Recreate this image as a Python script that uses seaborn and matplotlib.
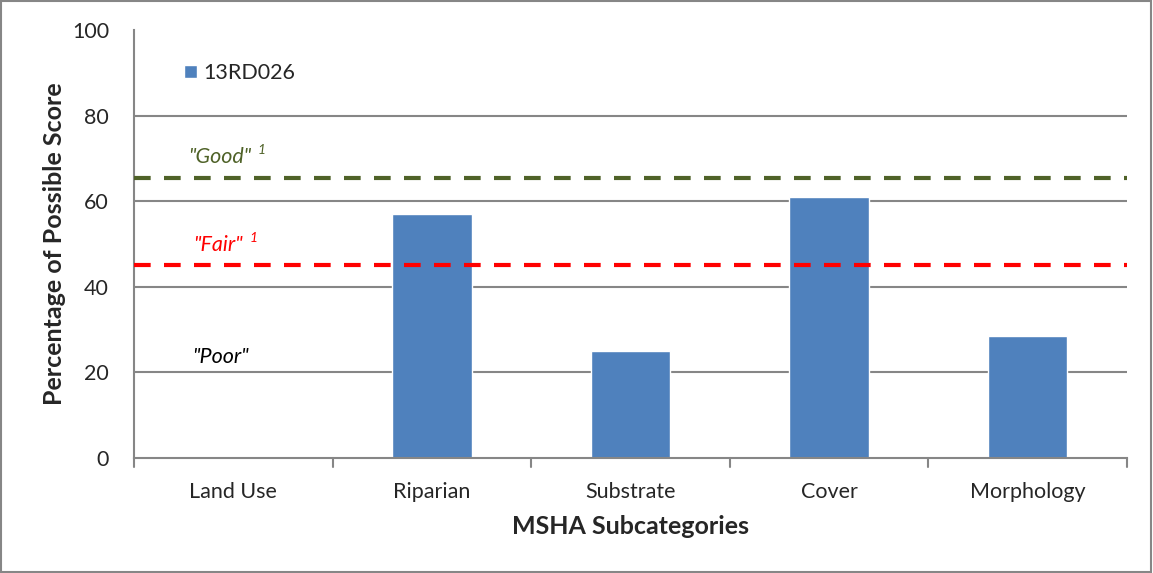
import pandas as pd
import matplotlib.pyplot as plt
import seaborn as sns
from matplotlib.patches import Rectangle

# Data
categories = ["Land Use", "Riparian", "Substrate", "Cover", "Morphology"]
scores = [0, 57, 25, 61, 28.5]
site = "13RD026"
good_level = 65.5
fair_level = 45.2

df = pd.DataFrame({"Subcategory": categories, "Score": scores})

sns.set_style("white")
plt.rcParams["font.family"] = ["Lato", "DejaVu Sans"]

fig = plt.figure(figsize=(11.53, 5.73), dpi=100)
ax = fig.add_axes([0.1162, 0.2007, 0.8613, 0.7469])

sns.barplot(data=df, x="Subcategory", y="Score", color="#4F81BD",
            width=0.4, saturation=1, ax=ax, label=site)

# thresholds
ax.axhline(good_level, color="#4F6228", lw=3, ls=(0, (4, 3.2)), zorder=3)
ax.axhline(fair_level, color="#FF0000", lw=3, ls=(0, (4, 3.2)), zorder=3)


def label(x, y, txt, col, sup=True):
    t = ax.text(x, y, txt, color=col, fontsize=15.5, style="italic", va="bottom")
    if sup:
        ax.annotate("1", xy=(1, 0.55), xycoords=t, xytext=(5, 0),
                    textcoords="offset points", color=col, fontsize=10,
                    style="italic", va="bottom")
    return t


label(-0.23, good_level + 2.6, '"Good"', "#4F6228")
label(-0.205, fair_level + 2.2, '"Fair"', "#FF0000")
label(-0.21, 21.3, '"Poor"', "black", sup=False)

ax.set_ylim(0, 100)
ax.set_xlim(-0.5, 4.5)
ax.set_yticks([0, 20, 40, 60, 80, 100])
ax.set_xticks(range(len(categories)))
ax.set_xticklabels(categories, fontsize=15.5)
ax.tick_params(axis="y", labelsize=15.5, length=7, color="#868686", pad=11)
ax.tick_params(axis="x", length=0, pad=17)
for b in [0.5, 1.5, 2.5, 3.5, 4.5, -0.5]:
    ax.plot([b, b], [0, -2.2], color="#868686", lw=1.5, clip_on=False)

for y in [20, 40, 60, 80]:
    ax.axhline(y, color="#868686", lw=1.5, zorder=0)

for s in ["top", "right"]:
    ax.spines[s].set_visible(False)
for s in ["left", "bottom"]:
    ax.spines[s].set_color("#868686")
    ax.spines[s].set_linewidth(1.5)

ax.set_ylabel("Percentage of Possible Score", fontsize=18, fontweight="bold",
              labelpad=4)
ax.set_xlabel("MSHA Subcategories", fontsize=18, fontweight="bold", labelpad=10)

ax.legend(loc="upper left", bbox_to_anchor=(0.031, 0.968), frameon=False,
          fontsize=15.5, handlelength=0.6, handleheight=0.6, handletextpad=0.3)

fig.add_artist(Rectangle((0.001, 0.001), 0.997, 0.997, transform=fig.transFigure,
                         fill=False, edgecolor="#868686", lw=1.5))

fig.savefig("out.png", dpi=100)
